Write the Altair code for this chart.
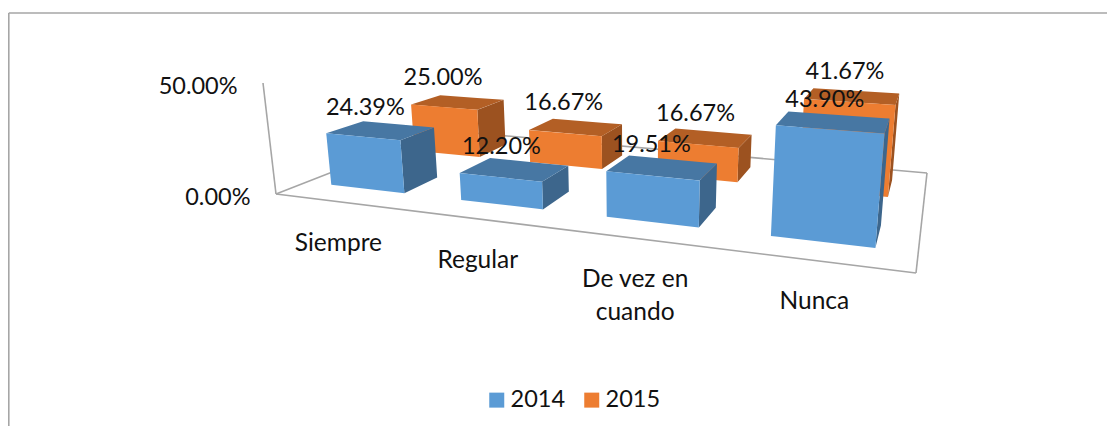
import altair as alt
import numpy as np
import pandas as pd

categories = ["Siempre", "Regular", ["De vez en", "cuando"], "Nunca"]
values_2014 = [24.39, 12.20, 19.51, 43.90]
values_2015 = [25.00, 16.67, 16.67, 41.67]
axis_ticks = [0, 50]
series_names = ["2014", "2015"]

# ---- perspective camera of the 3-D chart ----
FLOOR = [(276, 194), (916, 273), (927, 173), (440, 130)]
AXIS_TOP = (263, 83)
VERT_VP = (635, 3270)
BAR_W = 0.144
BAR_U0 = 0.05
DEPTH = {"2014": (0.15, 0.35), "2015": (0.65, 0.86)}
LABEL_SHIFT = {"2014": (-15.6, 2.2), "2015": (-15.0, 2.5)}
FONT = "Lato"
FS = 23.5
FS_CAT = 24.5

A, b = [], []
for (u, v), (x, y) in zip([(0, 0), (1, 0), (1, 1), (0, 1)], FLOOR):
    A.append([u, v, 1, 0, 0, 0, -u * x, -v * x]); b.append(x)
    A.append([0, 0, 0, u, v, 1, -u * y, -v * y]); b.append(y)
H = np.append(np.linalg.solve(np.array(A, float), np.array(b, float)), 1).reshape(3, 3)
S = (FLOOR[0][1] - AXIS_TOP[1]) / (AXIS_TOP[1] - VERT_VP[1]) / 50.0


def proj(u, v, h=0.0):
    p = H @ np.array([u, v, 1.0]) + h * S * np.array([VERT_VP[0], VERT_VP[1], 1.0])
    return float(p[0] / p[2]), float(p[1] / p[2])


def envelope(poly, face, shade):
    xs = sorted({round(p[0], 3) for p in poly})
    rows = []
    n = len(poly)
    for x in xs:
        ys = []
        for i in range(n):
            (x0, y0), (x1, y1) = poly[i], poly[(i + 1) % n]
            lo, hi = min(x0, x1) - 1e-3, max(x0, x1) + 1e-3
            if lo <= x <= hi:
                if abs(x1 - x0) < 1e-6:
                    ys += [y0, y1]
                else:
                    ys.append(y0 + (y1 - y0) * (x - x0) / (x1 - x0))
        rows.append({"face": face, "shade": shade, "x": x, "y": min(ys), "y2": max(ys)})
    return rows


face_rows, label_rows = [], []
for name, vals in [("2015", values_2015), ("2014", values_2014)]:
    v0, v1 = DEPTH[name]
    for i, val in enumerate(vals):
        u0 = BAR_U0 + i * 0.25
        u1 = u0 + BAR_W
        side = [proj(u1, v0), proj(u1, v1), proj(u1, v1, val), proj(u1, v0, val)]
        top = [proj(u0, v0, val), proj(u1, v0, val), proj(u1, v1, val), proj(u0, v1, val)]
        front = [proj(u0, v0), proj(u1, v0), proj(u1, v0, val), proj(u0, v0, val)]
        face_rows += envelope(side, f"{name}-{i}-side", name + " side")
        face_rows += envelope(top, f"{name}-{i}-top", name + " top")
        face_rows += envelope(front, f"{name}-{i}-front", name)
        cx, cy = proj((u0 + u1) / 2, (v0 + v1) / 2, val)
        cx += LABEL_SHIFT[name][0] + LABEL_SHIFT[name][1] * i
        label_rows.append({"x": cx, "y": cy, "text": f"{val:.2f}%", "series": name})

faces = pd.DataFrame(face_rows)
labels = pd.DataFrame(label_rows)

# floor outline, value axis, chart frame
lines = []
for a, c in zip(FLOOR, FLOOR[1:] + FLOOR[:1]):
    lines.append({"x": a[0], "y": a[1], "x2": c[0], "y2": c[1], "w": 1.6})
lines.append({"x": FLOOR[0][0], "y": FLOOR[0][1], "x2": AXIS_TOP[0], "y2": AXIS_TOP[1], "w": 1.6})
lines.append({"x": 8.8, "y": 13, "x2": 8.8, "y2": 426, "w": 1.6})
lines.append({"x": 8.8, "y": 13, "x2": 1107, "y2": 13, "w": 1.6})
lines = pd.DataFrame(lines)

ticks = pd.DataFrame([{"x": proj(0, 0, t)[0], "y": proj(0, 0, t)[1], "text": f"{t:.2f}%"} for t in axis_ticks])
cats = pd.DataFrame(
    [{"x": proj(BAR_U0 + i * 0.25 + BAR_W / 2, 0)[0], "y": proj(BAR_U0 + i * 0.25 + BAR_W / 2, 0)[1], "text": c}
     for i, c in enumerate(categories)]
)

X = alt.X("x:Q", scale=alt.Scale(domain=[8, 1107]), axis=None)
Y = alt.Y("y:Q", scale=alt.Scale(domain=[426, 8]), axis=None)

rule_layer = alt.Chart(lines).mark_rule(color="#A6A6A6").encode(
    x=X, y=Y, x2="x2:Q", y2="y2:Q", strokeWidth=alt.StrokeWidth("w:Q", scale=None)
)

shades = ["2014", "2015", "2014 top", "2014 side", "2015 top", "2015 side"]
shade_colors = ["#5B9BD5", "#ED7D31", "#4777A3", "#3D668C", "#B35F25", "#9C5220"]
legend = alt.Legend(
    orient="none", legendX=477, legendY=380, direction="horizontal", title=None,
    values=series_names, symbolType="square", symbolSize=225, symbolStrokeWidth=0,
    labelFont=FONT, labelFontSize=FS, labelColor="#111111", columnPadding=14, labelOffset=2,
)
area_layer = alt.Chart(faces).mark_area(interpolate="linear").encode(
    x=X, y=Y, y2="y2:Q", detail="face:N",
    color=alt.Color("shade:N", scale=alt.Scale(domain=shades, range=shade_colors), legend=legend),
)

common = dict(font=FONT, fontSize=FS, color="#111111")
label_2014 = alt.Chart(labels[labels.series == "2014"]).mark_text(dy=-22, **common).encode(x=X, y=Y, text="text:N")
label_2015 = alt.Chart(labels[labels.series == "2015"]).mark_text(dy=-24, **common).encode(x=X, y=Y, text="text:N")
tick_layer = alt.Chart(ticks).mark_text(align="right", dx=-25.5, dy=3.5, **common).encode(x=X, y=Y, text="text:N")
cat_layer = alt.Chart(cats).mark_text(baseline="top", dy=30, lineBreak="\n", lineHeight=32.5, font=FONT, fontSize=FS_CAT, color="#111111").encode(x=X, y=Y, text="text:N")

chart = (
    alt.layer(rule_layer, area_layer, label_2015, label_2014, tick_layer, cat_layer)
    .properties(width=1099, height=418, padding=0, autosize="none", background="white")
    .configure_view(stroke=None)
)
chart.save("out.html", embed_options={"renderer": "svg", "actions": False})
